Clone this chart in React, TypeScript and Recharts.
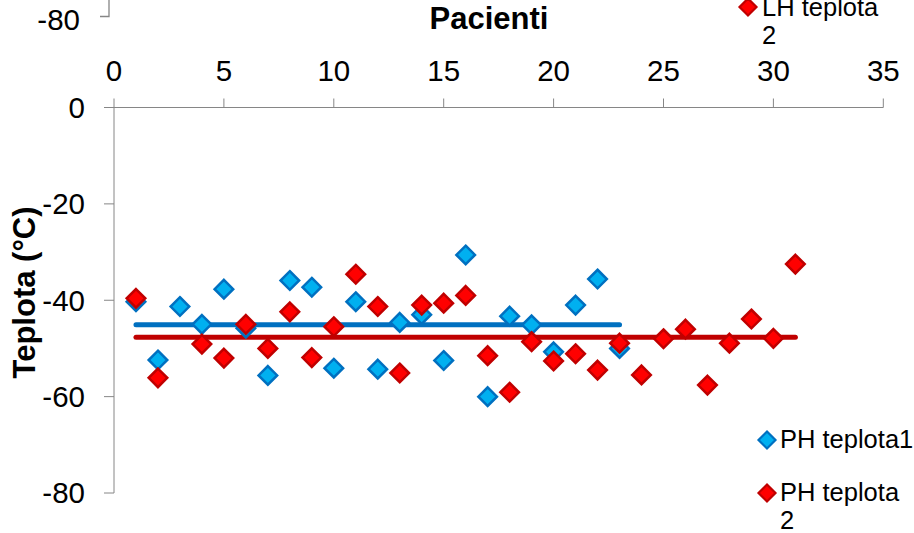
import React from 'react';
import { ScatterChart, Scatter, XAxis, YAxis } from 'recharts';

// Patients (x) and temperatures (°C) per series
const patientsPH1 = [1, 2, 3, 4, 5, 6, 7, 8, 9, 10, 11, 12, 13, 14, 15, 16, 17, 18, 19, 20, 21, 22, 23];
const tempPH1 = [-40.3, -52.4, -41.3, -45.0, -37.7, -45.8, -55.6, -35.9, -37.3, -54.1, -40.3, -54.3, -44.6, -43.0, -52.5, -30.6, -60.0, -43.3, -45.1, -50.7, -41.0, -35.6, -50.0];

const patientsPH2 = [1, 2, 4, 5, 6, 7, 8, 9, 10, 11, 12, 13, 14, 15, 16, 17, 18, 19, 20, 21, 22, 23, 24, 25, 26, 27, 28, 29, 30, 31];
const tempPH2 = [-39.6, -56.1, -49.1, -52.0, -45.0, -50.0, -42.4, -51.9, -45.5, -34.6, -41.3, -55.1, -41.0, -40.6, -39.0, -51.5, -59.1, -48.6, -52.6, -51.1, -54.5, -48.9, -55.5, -48.0, -46.0, -57.6, -48.9, -43.9, -47.9, -32.5];

// Average lines (value, first patient, last patient)
const meanPH1 = -45.1;
const meanPH1Range = [1, 23];
const meanPH2 = -47.7;
const meanPH2Range = [1, 31];

const xTicks = [0, 5, 10, 15, 20, 25, 30, 35];
const yTicks = [-80, -60, -40, -20, 0];

const seriesNames = ['PH teplota1', 'PH teplota 2'];

const BLUE_FILL = '#00B0F0';
const BLUE_STROKE = '#0070C0';
const RED_FILL = '#FF0000';
const RED_STROKE = '#C00000';
const AXIS = '#868686';
const FONT = '"Liberation Sans", Arial, sans-serif';

const ph1Data = patientsPH1.map((x, i) => ({ x, y: tempPH1[i] }));
const ph2Data = patientsPH2.map((x, i) => ({ x, y: tempPH2[i] }));
const mean1Data = meanPH1Range.map((x) => ({ x, y: meanPH1 }));
const mean2Data = meanPH2Range.map((x) => ({ x, y: meanPH2 }));

const R = 9.3;
const diamondPath = (cx: number, cy: number, r: number) =>
  `M${cx},${cy - r}L${cx + r},${cy}L${cx},${cy + r}L${cx - r},${cy}Z`;

const makeDiamond = (fill: string, stroke: string) => (props: any) => {
  const { cx, cy } = props;
  if (cx == null || cy == null) return <g />;
  return (
    <path d={diamondPath(cx, cy, R)} fill={fill} stroke={stroke} strokeWidth={2.5} />
  );
};

const noShape = () => <g />;

const LegendDiamond = ({ cx, cy, fill, stroke }: any) => (
  <path d={diamondPath(cx, cy, 8.5)} fill={fill} stroke={stroke} strokeWidth={2.2} />
);

export default function App() {
  return (
    <div style={{ position: 'absolute', left: 0, top: 0, width: 914, height: 533, background: '#fff' }}>
      <ScatterChart
        width={914}
        height={533}
        margin={{ top: 47.5, right: 30.7, bottom: 40, left: 54 }}
      >
        <XAxis
          type="number"
          dataKey="x"
          orientation="top"
          height={60}
          domain={[0, 35]}
          ticks={xTicks}
          interval={0}
          allowDataOverflow
          tickSize={9}
          tickMargin={18}
          stroke={AXIS}
          tick={{ fill: '#000', fontSize: 29.5, fontFamily: FONT }}
        />
        <YAxis
          type="number"
          dataKey="y"
          width={60}
          domain={[-80, 0]}
          ticks={yTicks}
          interval={0}
          allowDataOverflow
          tickSize={10}
          tickMargin={19}
          stroke={AXIS}
          tick={{ fill: '#000', fontSize: 29.5, fontFamily: FONT }}
        />
        <Scatter
          data={mean1Data}
          line={{ stroke: BLUE_STROKE, strokeWidth: 5, strokeLinecap: 'round' }}
          shape={noShape}
          isAnimationActive={false}
        />
        <Scatter
          data={mean2Data}
          line={{ stroke: RED_STROKE, strokeWidth: 5, strokeLinecap: 'round' }}
          shape={noShape}
          isAnimationActive={false}
        />
        <Scatter
          name={seriesNames[0]}
          data={ph1Data}
          shape={makeDiamond(BLUE_FILL, BLUE_STROKE)}
          isAnimationActive={false}
        />
        <Scatter
          name={seriesNames[1]}
          data={ph2Data}
          shape={makeDiamond(RED_FILL, RED_STROKE)}
          isAnimationActive={false}
        />
      </ScatterChart>
      <svg
        width={914}
        height={533}
        style={{ position: 'absolute', left: 0, top: 0, pointerEvents: 'none' }}
      >
        {/* fragment of the chart above */}
        <text x={80} y={30} textAnchor="end" fontSize={29.5} fontFamily={FONT} fill="#000">-80</text>
        <path d="M100,16.5L109,16.5L109,0" fill="none" stroke={AXIS} strokeWidth={1.3} />
        <LegendDiamond cx={748} cy={7} fill={RED_FILL} stroke={RED_STROKE} />
        <text x={762} y={16} fontSize={25.5} fontFamily={FONT} fill="#000">LH teplota</text>
        <text x={762} y={44} fontSize={25.5} fontFamily={FONT} fill="#000">2</text>

        {/* axis titles */}
        <text x={489} y={28.5} textAnchor="middle" fontSize={31} fontWeight="bold" fontFamily={FONT} fill="#000">Pacienti</text>
        <text
          x={34.5}
          y={292.5}
          textAnchor="middle"
          fontSize={31}
          fontWeight="bold"
          fontFamily={FONT}
          fill="#000"
          transform="rotate(-90 34.5 292.5)"
        >
          Teplota (°C)
        </text>

        {/* legend */}
        <LegendDiamond cx={767} cy={440} fill={BLUE_FILL} stroke={BLUE_STROKE} />
        <text x={780} y={448} fontSize={25.5} fontFamily={FONT} fill="#000">{seriesNames[0]}</text>
        <LegendDiamond cx={767} cy={493} fill={RED_FILL} stroke={RED_STROKE} />
        <text x={780} y={501} fontSize={25.5} fontFamily={FONT} fill="#000">PH teplota</text>
        <text x={780} y={529} fontSize={25.5} fontFamily={FONT} fill="#000">2</text>
      </svg>
    </div>
  );
}
